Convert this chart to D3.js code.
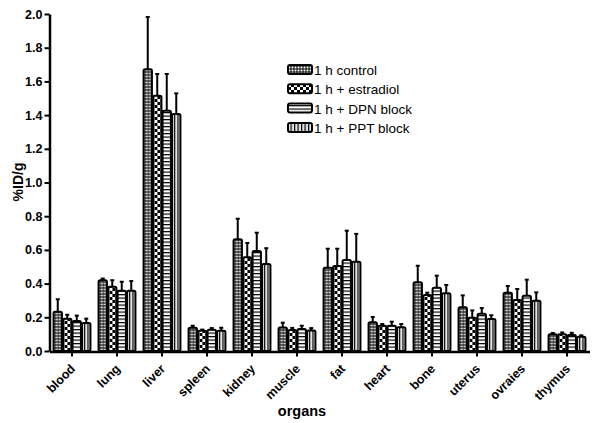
<!DOCTYPE html>
<html><head><meta charset="utf-8">
<script src="https://cdn.jsdelivr.net/npm/d3@7"></script>
<style>
html,body{margin:0;padding:0;background:#fff;}
svg{display:block;font-family:"Liberation Sans",Arial,sans-serif;}
</style></head>
<body>
<svg id="chart" width="600" height="423"></svg>
<script>
const organs = ["blood","lung","liver","spleen","kidney","muscle","fat","heart","bone","uterus","ovraies","thymus"];
const seriesNames = ["1 h control","1 h + estradiol","1 h + DPN block","1 h + PPT block"];
const control   = [0.233,0.420,1.672,0.138,0.663,0.140,0.494,0.170,0.408,0.259,0.346,0.100];
const controlErr= [0.074,0.010,0.310,0.012,0.122,0.028,0.113,0.032,0.098,0.071,0.040,0.007];
const estradiol   = [0.192,0.382,1.515,0.120,0.556,0.125,0.504,0.150,0.332,0.198,0.303,0.100];
const estradiolErr= [0.023,0.038,0.129,0.007,0.085,0.012,0.103,0.010,0.014,0.043,0.065,0.010];
const dpn   = [0.178,0.358,1.426,0.126,0.593,0.130,0.540,0.150,0.376,0.221,0.328,0.095];
const dpnErr= [0.032,0.053,0.218,0.010,0.109,0.020,0.174,0.024,0.071,0.034,0.095,0.013];
const ppt   = [0.166,0.358,1.407,0.120,0.516,0.122,0.530,0.141,0.342,0.190,0.298,0.085];
const pptErr= [0.026,0.057,0.122,0.018,0.094,0.014,0.165,0.019,0.050,0.022,0.050,0.008];
const yTicks = [0.0,0.2,0.4,0.6,0.8,1.0,1.2,1.4,1.6,1.8,2.0];

const values = [control, estradiol, dpn, ppt];
const errs = [controlErr, estradiolErr, dpnErr, pptErr];
const patIds = ["pCtrl","pEst","pDpn","pPpt"];

const svg = d3.select("#chart");
const defs = svg.append("defs");
// control: fine dots
let p = defs.append("pattern").attr("id","pCtrl").attr("patternUnits","userSpaceOnUse").attr("width",3).attr("height",3);
p.append("rect").attr("width",3).attr("height",3).attr("fill","#000");
p.append("rect").attr("x",0.5).attr("y",0.5).attr("width",2).attr("height",2).attr("fill","#fff");
// estradiol: coarse checker
p = defs.append("pattern").attr("id","pEst").attr("patternUnits","userSpaceOnUse").attr("width",6).attr("height",6);
p.append("rect").attr("width",6).attr("height",6).attr("fill","#000");
p.append("rect").attr("x",0).attr("y",0).attr("width",3).attr("height",3).attr("fill","#fff");
p.append("rect").attr("x",3).attr("y",3).attr("width",3).attr("height",3).attr("fill","#fff");
// DPN: horizontal lines
p = defs.append("pattern").attr("id","pDpn").attr("patternUnits","userSpaceOnUse").attr("width",4).attr("height",3.5);
p.append("rect").attr("width",4).attr("height",3.5).attr("fill","#fff");
p.append("rect").attr("y",0).attr("width",4).attr("height",1.2).attr("fill","#000");
// PPT: vertical lines on light grey
p = defs.append("pattern").attr("id","pPpt").attr("patternUnits","userSpaceOnUse").attr("width",3.5).attr("height",4);
p.append("rect").attr("width",3.5).attr("height",4).attr("fill","#e4e4e4");
p.append("rect").attr("x",0).attr("width",1.2).attr("height",4).attr("fill","#000");

const x0 = d3.scaleBand().domain(organs).range([49.5,589.5]).paddingInner(0.13).paddingOuter(0.065);
const x1 = d3.scaleBand().domain(d3.range(4)).range([0,x0.bandwidth()]).padding(0.12);
const y = d3.scaleLinear().domain([0,2]).range([351,14]);

// bars
const g = svg.append("g");
organs.forEach((o,i)=>{
  const gg = g.append("g").attr("transform",`translate(${x0(o)},0)`);
  for(let s=0;s<4;s++){
    const v = values[s][i], e = errs[s][i];
    const bx = x1(s), bw = x1.bandwidth();
    const cx = bx + bw/2;
    gg.append("line").attr("x1",cx).attr("x2",cx).attr("y1",y(v)).attr("y2",y(v+e))
      .attr("stroke","#000").attr("stroke-width",2);
    gg.append("line").attr("x1",cx-2).attr("x2",cx+2).attr("y1",y(v+e)).attr("y2",y(v+e))
      .attr("stroke","#000").attr("stroke-width",2);
    gg.append("rect").attr("x",bx).attr("y",y(v)).attr("width",bw).attr("height",y(0)-y(v))
      .attr("fill",`url(#${patIds[s]})`).attr("stroke","#000").attr("stroke-width",2)
      .attr("rx",1.5);
  }
});

// y axis
const yAxis = svg.append("g").attr("transform","translate(49.5,0)")
  .call(d3.axisLeft(y).tickValues(yTicks).tickFormat(d3.format(".1f")).tickSize(5).tickSizeOuter(0));
yAxis.select(".domain").attr("stroke-width",2.5);
yAxis.selectAll(".tick line").attr("stroke-width",2);
yAxis.selectAll("text").attr("font-size",12.5).attr("font-weight","bold").attr("x",-7).attr("fill","#000");

// x axis
const xAxis = svg.append("g").attr("transform","translate(0,351.5)")
  .call(d3.axisBottom(x0).tickSize(5).tickSizeOuter(0));
xAxis.select(".domain").attr("stroke-width",2.5);
xAxis.selectAll(".tick line").attr("stroke-width",2);
xAxis.selectAll(".tick text").remove();
xAxis.selectAll(".tick").append("text")
  .attr("text-anchor","end").attr("fill","#000")
  .attr("font-size",12.5).attr("font-weight","bold")
  .attr("transform","translate(4,18) rotate(-45)")
  .text(d=>d);

// axis titles
svg.append("text").attr("transform","translate(23,182) rotate(-90)").attr("text-anchor","middle")
  .attr("font-size",14).attr("font-weight","bold").text("%ID/g");
svg.append("text").attr("x",302).attr("y",416).attr("text-anchor","middle")
  .attr("font-size",14.5).attr("font-weight","bold").text("organs");

// legend
const leg = svg.append("g");
seriesNames.forEach((n,i)=>{
  const ly = 70 + i*19.3;
  leg.append("rect").attr("x",288).attr("y",ly-5).attr("width",24).attr("height",9)
    .attr("fill",`url(#${patIds[i]})`).attr("stroke","#000").attr("stroke-width",2).attr("rx",2);
  leg.append("text").attr("x",314).attr("y",ly+5).attr("font-size",13.5).attr("fill","#000").text(n);
});
</script>
</body></html>
